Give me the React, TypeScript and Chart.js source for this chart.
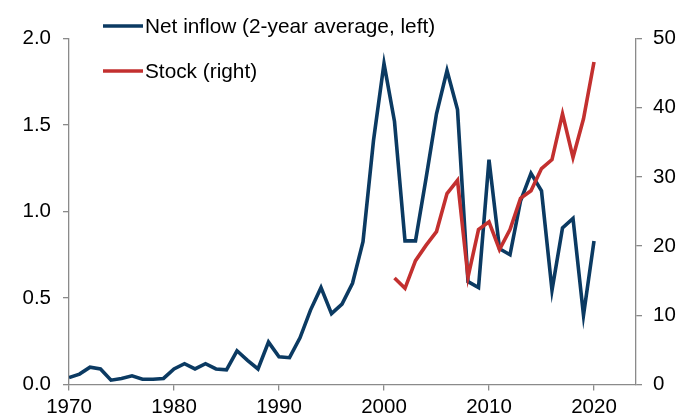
import React, { useEffect, useRef } from "react";
import { Chart, registerables } from "chart.js";

Chart.register(...registerables);

const inflowYears = [
  1970, 1971, 1972, 1973, 1974, 1975, 1976, 1977, 1978, 1979,
  1980, 1981, 1982, 1983, 1984, 1985, 1986, 1987, 1988, 1989,
  1990, 1991, 1992, 1993, 1994, 1995, 1996, 1997, 1998, 1999,
  2000, 2001, 2002, 2003, 2004, 2005, 2006, 2007, 2008, 2009,
  2010, 2011, 2012, 2013, 2014, 2015, 2016, 2017, 2018, 2019,
  2020,
];
const netInflow = [
  0.04, 0.06, 0.1, 0.09, 0.025, 0.035, 0.05, 0.03, 0.03, 0.035,
  0.09, 0.12, 0.09, 0.12, 0.09, 0.085, 0.195, 0.14, 0.09, 0.245,
  0.16, 0.155, 0.27, 0.43, 0.56, 0.41, 0.465, 0.585, 0.825, 1.41,
  1.855, 1.52, 0.83, 0.83, 1.19, 1.565, 1.815, 1.59, 0.595, 0.56,
  1.3, 0.785, 0.75, 1.06, 1.22, 1.12, 0.545, 0.905, 0.96, 0.4,
  0.83,
];
const stockYears = [
  2001, 2002, 2003, 2004, 2005, 2006, 2007, 2008, 2009, 2010,
  2011, 2012, 2013, 2014, 2015, 2016, 2017, 2018, 2019, 2020,
];
const stock = [
  15.4, 13.9, 17.9, 20.1, 22.1, 27.6, 29.5, 15.5, 22.4, 23.5,
  19.5, 22.4, 26.9, 28.0, 31.2, 32.5, 39.1, 32.8, 38.4, 46.6,
];
const xTickYears = [1970, 1980, 1990, 2000, 2010, 2020];
const seriesLabels = ["Net inflow (2-year average, left)", "Stock (right)"];

const NAVY = "#0b3a62";
const RED = "#c3302f";
const AXIS = "#8a8a8a";
const FONT = "'Liberation Sans', Arial, sans-serif";

const legendPlugin = {
  id: "customLegend",
  afterDraw(chart: any) {
    const ctx = chart.ctx;
    const items = [
      { label: seriesLabels[0], color: NAVY, y: 26 },
      { label: seriesLabels[1], color: RED, y: 71 },
    ];
    ctx.save();
    ctx.font = `20.8px ${FONT}`;
    ctx.textBaseline = "middle";
    ctx.textAlign = "left";
    for (const it of items) {
      ctx.strokeStyle = it.color;
      ctx.lineWidth = 3.5;
      ctx.beginPath();
      ctx.moveTo(103, it.y);
      ctx.lineTo(143, it.y);
      ctx.stroke();
      ctx.fillStyle = "#000";
      ctx.fillText(it.label, 145, it.y + 1);
    }
    ctx.restore();
  },
};

export default function App() {
  const ref = useRef<HTMLCanvasElement | null>(null);

  useEffect(() => {
    if (!ref.current) return;
    const gridCfg = {
      display: true,
      drawOnChartArea: false,
      drawTicks: true,
      tickLength: 6,
      color: AXIS,
      lineWidth: 1.3,
    };
    const borderCfg = { display: true, color: AXIS, width: 1.3 };
    const tickFont = { family: FONT, size: 20.5 };
    const chart = new Chart(ref.current, {
      type: "line",
      data: {
        datasets: [
          {
            label: seriesLabels[0],
            data: inflowYears.map((x, i) => ({ x, y: netInflow[i] })),
            borderColor: NAVY,
            backgroundColor: NAVY,
            borderWidth: 3.6,
            pointRadius: 0,
            tension: 0,
            yAxisID: "y",
            order: 1,
          },
          {
            label: seriesLabels[1],
            data: stockYears.map((x, i) => ({ x, y: stock[i] })),
            borderColor: RED,
            backgroundColor: RED,
            borderWidth: 3.6,
            pointRadius: 0,
            tension: 0,
            yAxisID: "y1",
            order: 0,
          },
        ],
      },
      options: {
        responsive: false,
        animation: false,
        devicePixelRatio: 1,
        layout: { padding: { top: 38.5, left: 0, right: 0, bottom: 0 } },
        plugins: {
          legend: { display: false },
          tooltip: { enabled: false },
        },
        scales: {
          x: {
            type: "linear",
            min: 1970,
            max: 2024,
            grid: gridCfg,
            border: borderCfg,
            ticks: {
              stepSize: 10,
              autoSkip: false,
              maxRotation: 0,
              padding: 5,
              color: "#000",
              font: tickFont,
              callback: (v: any) => String(v),
            },
            afterBuildTicks: (s: any) => {
              s.ticks = xTickYears.map((value) => ({ value }));
            },
            afterFit: (s: any) => {
              s.height = 34.5;
            },
          },
          y: {
            type: "linear",
            position: "left",
            min: 0,
            max: 2,
            grid: gridCfg,
            border: borderCfg,
            ticks: {
              stepSize: 0.5,
              padding: 12,
              color: "#000",
              font: tickFont,
              callback: (v: any) => Number(v).toFixed(1),
            },
            afterFit: (s: any) => {
              s.width = 69;
            },
          },
          y1: {
            type: "linear",
            position: "right",
            min: 0,
            max: 50,
            grid: gridCfg,
            border: borderCfg,
            ticks: {
              stepSize: 10,
              padding: 11,
              color: "#000",
              font: tickFont,
              callback: (v: any) => String(v),
            },
            afterFit: (s: any) => {
              s.width = 53;
            },
          },
        },
      },
      plugins: [legendPlugin],
    } as any);
    return () => chart.destroy();
  }, []);

  return (
    <div style={{ position: "absolute", left: 0, top: 0, width: 689, height: 419, background: "#fff" }}>
      <canvas ref={ref} width={689} height={419} style={{ display: "block" }} />
    </div>
  );
}
